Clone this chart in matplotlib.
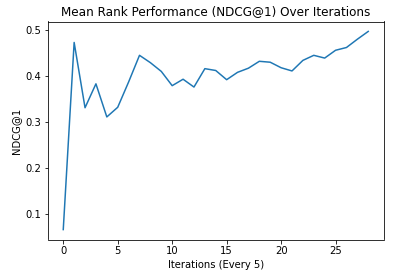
import matplotlib
matplotlib.use("Agg")
import matplotlib.pyplot as plt

iterations = list(range(29))
ndcg1 = [0.067, 0.474, 0.332, 0.384, 0.312, 0.333, 0.388, 0.446, 0.430, 0.411,
         0.380, 0.394, 0.377, 0.417, 0.413, 0.393, 0.409, 0.418, 0.433, 0.431,
         0.419, 0.412, 0.435, 0.446, 0.440, 0.457, 0.463, 0.481, 0.498]

fig = plt.figure(figsize=(399/72, 280/72), dpi=72)
ax = fig.add_axes([48/399, 1-239.5/280, (383.5-48)/399, (239.5-21.5)/280])
ax.plot(iterations, ndcg1, color="#1f77b4", linewidth=1.5)
ax.set_title("Mean Rank Performance (NDCG@1) Over Iterations", fontsize=12)
ax.set_xlabel("Iterations (Every 5)", fontsize=10)
ax.set_ylabel("NDCG@1", fontsize=10)
ax.set_xticks([0, 5, 10, 15, 20, 25])
ax.set_yticks([0.1, 0.2, 0.3, 0.4, 0.5])
ax.tick_params(labelsize=10)
fig.savefig("out.png", dpi=72)
